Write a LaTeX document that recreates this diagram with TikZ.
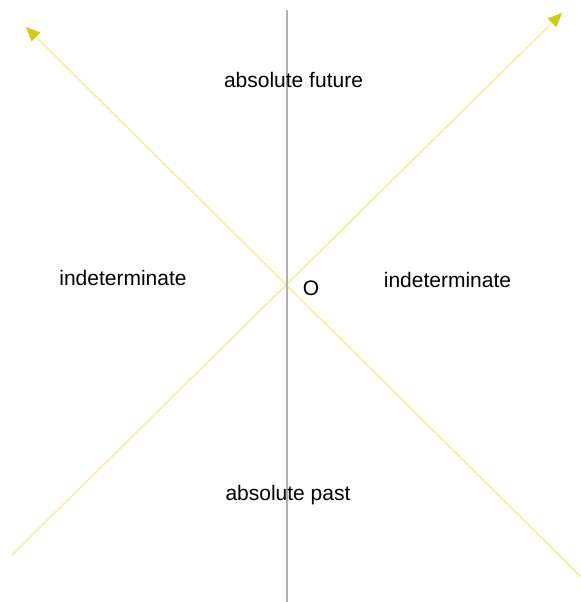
\documentclass[tikz,border=0pt]{standalone}
\usepackage{fontspec}
\setmainfont{Liberation Sans}
\usetikzlibrary{arrows.meta}
\definecolor{conecol}{HTML}{EEEEA8}
\definecolor{tipcol}{HTML}{CCCC10}
\definecolor{axiscol}{HTML}{B0B0B0}
\begin{document}
\begin{tikzpicture}[
	x=1bp, y=-1bp,
	region/.style={font=\fontsize{21bp}{25bp}\selectfont, inner sep=0pt},
	cone/.style={draw=conecol, line width=1.6bp},
	ray/.style={cone, -{Triangle[length=14bp, width=12bp, fill=tipcol, color=tipcol]}},
	axis/.style={draw=axiscol, line width=2bp},
]
\useasboundingbox (0,0) rectangle (581,602);
\coordinate (o) at (287,286);
\coordinate (tt) at (287,10);
\coordinate (tb) at (287,602);
\coordinate (bl) at (12,555);
\coordinate (tr) at (562,13);
\coordinate (br) at (583,579);
\coordinate (tl) at (26,27);
\draw[ray] (bl) -- (tr);
\draw[ray] (br) -- (tl);
\draw[axis] (tt) -- (tb);
\node[region] (future) at (293.5,80) {absolute future};
\node[region] (past) at (288,495) {absolute past};
\node[region] (left) at (123,278) {indeterminate};
\node[region] (right) at (447.5,280) {indeterminate};
\node[region] (olabel) at (311,288) {O};
\end{tikzpicture}
\end{document}
